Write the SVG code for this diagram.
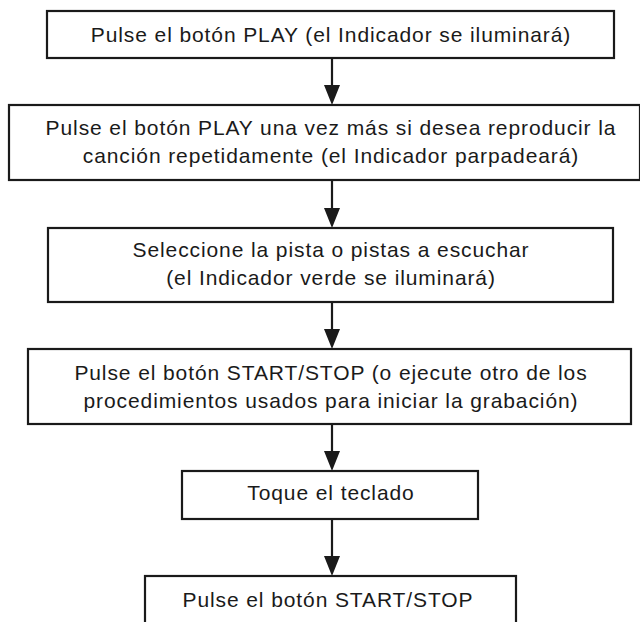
<svg xmlns="http://www.w3.org/2000/svg" width="640" height="622" viewBox="0 0 640 622">
<style>
.box{fill:#fff;stroke:#1a1a1a;stroke-width:2.2}
.t{font-family:"Liberation Sans",Arial,sans-serif;font-size:21px;fill:#1a1a1a;text-anchor:middle;letter-spacing:0.9px}
.c{stroke:#1a1a1a;stroke-width:2.2;fill:none}
.h{fill:#1a1a1a}
</style>
<rect width="640" height="622" fill="#fff"/>
<g id="connectors">
<line class="c" x1="332" y1="58" x2="332" y2="88"/><polygon class="h" points="324,85 340,85 332,105"/>
<line class="c" x1="332" y1="180" x2="332" y2="211"/><polygon class="h" points="324,208 340,208 332,228"/>
<line class="c" x1="332" y1="302" x2="332" y2="332"/><polygon class="h" points="324,329 340,329 332,349"/>
<line class="c" x1="332" y1="424" x2="332" y2="454"/><polygon class="h" points="324,451 340,451 332,471"/>
<line class="c" x1="332" y1="519" x2="332" y2="559"/><polygon class="h" points="324,556 340,556 332,576"/>
</g>
<g id="n1"><rect class="box" x="47" y="11" width="567" height="47"/><text class="t" x="331" y="42">Pulse el botón PLAY (el Indicador se iluminará)</text></g>
<g id="n2"><rect class="box" x="9" y="105" width="631" height="75"/><text class="t" x="331" y="135">Pulse el botón PLAY una vez más si desea reproducir la</text><text class="t" x="331" y="163">canción repetidamente (el Indicador parpadeará)</text></g>
<g id="n3"><rect class="box" x="48" y="228" width="565" height="74"/><text class="t" x="331" y="257">Seleccione la pista o pistas a escuchar</text><text class="t" x="331" y="285">(el Indicador verde se iluminará)</text></g>
<g id="n4"><rect class="box" x="28" y="349" width="603" height="75"/><text class="t" x="331" y="380">Pulse el botón START/STOP (o ejecute otro de los</text><text class="t" x="331" y="408">procedimientos usados para iniciar la grabación)</text></g>
<g id="n5"><rect class="box" x="182" y="471" width="296" height="48"/><text class="t" x="331" y="500">Toque el teclado</text></g>
<g id="n6"><rect class="box" x="145" y="576" width="371" height="60"/><text class="t" x="328" y="607">Pulse el botón START/STOP</text></g>
</svg>
